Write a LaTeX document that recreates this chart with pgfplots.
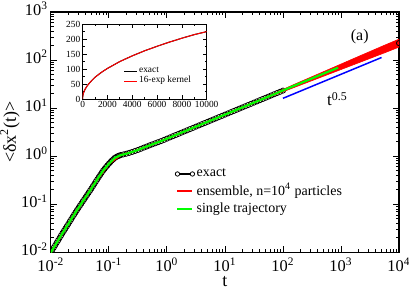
\documentclass[border=0pt]{standalone}
\usepackage{fontspec}
\setmainfont{Liberation Serif}
\usepackage{pgfplots}
\pgfplotsset{compat=1.18}
\begin{document}
\begin{tikzpicture}
\begin{axis}[
  name=main,
  at={(0,0)}, anchor=south west,
  xmode=log, ymode=log, scale only axis,
  width=174.5pt, height=120.5pt,
  xmin=0.01, xmax=10000, ymin=0.01, ymax=1000,
  clip marker paths=true,
  xtick={0.01,0.1,1,10,100,1000,10000},
  xticklabels={10\textsuperscript{-2},10\textsuperscript{-1},10\textsuperscript{0},10\textsuperscript{1},10\textsuperscript{2},10\textsuperscript{3},10\textsuperscript{4}},
  ytick={0.01,0.1,1,10,100,1000},
  yticklabels={10\textsuperscript{-2},10\textsuperscript{-1},10\textsuperscript{0},10\textsuperscript{1},10\textsuperscript{2},10\textsuperscript{3}},
  tick align=inside, major tick length=3pt, minor tick length=1.5pt,
  ticklabel style={font=\fontsize{8.2}{10}\selectfont},
  xticklabel style={inner sep=1pt, yshift=-1.8pt},
  yticklabel style={inner sep=1.2pt, yshift=1.5pt},
  xlabel={t}, ylabel={<δx\textsuperscript{2}(t)>},
  label style={font=\fontsize{9}{10}\selectfont},
  xlabel style={at={([yshift=-14.5pt]axis description cs:0.5,0)}, anchor=center, inner sep=0pt},
  ylabel style={at={([xshift=-20.5pt]axis description cs:0,0.5)}, anchor=center, inner sep=0pt},
  axis line style={line width=0.6pt},
  every tick/.style={black, line width=0.45pt},
  legend cell align=left,
  legend style={draw=none, fill=none, at={(0.355,0.357)}, anchor=north west,
    font=\fontsize{7}{8}\selectfont, row sep=0.4pt, inner sep=0pt,
    nodes={inner sep=0.8pt}},
]
% exact (with markers)
\addplot[black, line width=0.8pt, mark=o, mark size=1.3pt,
  mark options={line width=0.4pt, fill=none},
  legend image code/.code={\draw[black, line width=1pt] (0pt,0pt) -- (7.5pt,0pt);
    \draw[black, fill=white, line width=0.4pt] (0pt,0pt) circle (1.1pt) (7.5pt,0pt) circle (1.1pt);}]
coordinates {
(0.01,0.0100)(0.01059,0.01122)(0.01122,0.01259)(0.01189,0.01413)(0.01259,0.01585)
(0.01334,0.01778)(0.01413,0.01995)(0.01496,0.02239)(0.01585,0.02512)(0.01679,0.02803)
(0.01778,0.03126)(0.01884,0.03487)(0.01995,0.03890)(0.02113,0.04355)(0.02239,0.04875)
(0.02371,0.05451)(0.02512,0.06095)(0.02661,0.06784)(0.02818,0.07551)(0.02985,0.08395)
(0.03162,0.09333)(0.0335,0.1035)(0.03548,0.1148)(0.03758,0.1274)(0.03981,0.1413)
(0.04217,0.1567)(0.04467,0.1738)(0.04732,0.1928)(0.05012,0.2138)(0.05309,0.2385)
(0.05623,0.2661)(0.05957,0.2968)(0.0631,0.3311)(0.06683,0.3673)(0.07079,0.4074)
(0.07499,0.4519)(0.07943,0.5012)(0.08414,0.5464)(0.08913,0.5957)(0.09441,0.6457)
(0.1,0.6998)(0.1059,0.7542)(0.1122,0.8128)(0.1189,0.8650)(0.1259,0.9204)
(0.1334,0.9594)(0.1413,1.000)(0.1496,1.026)(0.1585,1.052)
(0.1778,1.090)(0.1995,1.127)(0.2239,1.172)(0.2512,1.225)(0.2818,1.285)(0.3162,1.349)
(0.3548,1.425)(0.3981,1.507)(0.4467,1.590)(0.5012,1.679)(0.5623,1.770)(0.631,1.862)
(0.7079,1.960)(0.7943,2.065)(0.8913,2.185)(1,2.317)(1.122,2.455)(1.259,2.600)(1.413,2.755)(1.585,2.917)
(1.778,3.090)(1.995,3.273)(2.239,3.468)(2.512,3.673)(2.818,3.890)(3.162,4.121)(3.548,4.365)(3.981,4.624)
(4.467,4.898)(5.012,5.188)(5.623,5.495)(6.31,5.821)(7.079,6.166)(7.943,6.531)(8.913,6.918)
(10,7.328)(11.22,7.762)(12.59,8.222)(14.13,8.710)(15.85,9.226)(17.78,9.772)(19.95,10.35)
(22.39,10.96)(25.12,11.61)(28.18,12.30)(31.62,13.03)(35.48,13.80)(39.81,14.62)(44.67,15.49)
(50.12,16.41)(56.23,17.38)(63.1,18.41)(70.79,19.50)(79.43,20.65)(89.13,21.88)(100,23.17)
};
\addlegendentry{exact}
% exact continued (line only, hidden under the ensemble band)
\addplot[black, line width=0.8pt, forget plot]
coordinates {(100,23.17)(177.8,30.9)(316.2,41.0)(562.3,54.5)(1000,72.4)(1778,96.2)(3162,127.6)(5623,169.5)(10000,225)};
% ensemble
\addplot[red, line width=1pt,
  legend image code/.code={\draw[red, line width=1pt] (0pt,0pt) -- (7.5pt,0pt);}]
coordinates {
(0.01,0.0100)(0.01585,0.02512)(0.02512,0.06095)(0.03981,0.1413)(0.0631,0.3311)
(0.1,0.6998)(0.1585,1.052)(0.2512,1.225)(0.3981,1.507)(0.631,1.862)(1,2.317)
(1.585,2.917)(2.512,3.673)(3.981,4.624)(6.31,5.821)(10,7.328)(15.85,9.226)(25.12,11.61)
(39.81,14.62)(63.1,18.41)(100,23.17)(316.2,41.0)(1000,72.4)(3162,127.6)(10000,225)
};
\addlegendentry{ensemble, n=10\textsuperscript{4} particles}
\addplot[red, fill=red, line width=0.3pt, forget plot]
coordinates {
(50,16.9)(100,24.56)(177.8,33.4)(316.2,45.1)(562.3,61.0)(1000,82.5)(1778,111.6)(3162,150.6)(5623,203.4)(10000,272)
(10000,186)(5623,141.3)(3162,108.1)(1778,82.9)(1000,63.5)(562.3,48.7)(316.2,37.3)(177.8,28.6)(100,21.86)(50,15.9)
} -- cycle;
% end marker of exact
\addplot[black, only marks, mark=o, mark size=1.3pt, mark options={line width=0.4pt}, forget plot]
coordinates {(10000,225)};
% single trajectory
\addplot[green, line width=1.1pt,
  legend image code/.code={\draw[green, line width=1pt] (0pt,0pt) -- (7.5pt,0pt);}]
coordinates {
(0.01,0.0100)(0.01259,0.01585)(0.01585,0.02512)(0.01995,0.03890)(0.02512,0.06095)
(0.03162,0.09333)(0.03981,0.1413)(0.05012,0.2138)(0.0631,0.3311)(0.07943,0.5012)
(0.1,0.6998)(0.1259,0.9204)(0.1585,1.052)(0.1995,1.127)(0.2512,1.225)(0.3162,1.349)
(0.3981,1.507)(0.5012,1.679)(0.631,1.862)(0.7943,2.065)(1,2.317)(1.585,2.917)
(2.512,3.673)(3.981,4.624)(6.31,5.821)(10,7.328)(15.85,9.226)(25.12,11.61)
(39.81,14.62)(63.1,18.41)(100,23.3)(177.8,31.2)(316.2,41.5)(562.3,55.3)(891,69.5)
};
\addlegendentry{single trajectory}
% t^0.5 guide
\addplot[blue, line width=0.75pt, forget plot] coordinates {(100,16)(5000,113)};
\node[font=\fontsize{8.5}{10}\selectfont] at (axis cs:870,15.5) {t\textsuperscript{0.5}};
\node[font=\fontsize{8}{10}\selectfont] at (axis cs:2100,310) {(a)};
\end{axis}
\begin{axis}[
  at={(main.south west)}, anchor=south west, xshift=15.9pt, yshift=76.9pt,
  scale only axis, width=62.2pt, height=37.5pt,
  xmin=0, xmax=10000, ymin=0, ymax=250,
  xtick={0,2000,4000,6000,8000,10000},
  ytick={0,50,100,150,200,250},
  minor x tick num=1, minor y tick num=1,
  scaled x ticks=false,
  /pgf/number format/1000 sep={},
  /pgf/number format/assume math mode=true,
  ticklabel style={font=\fontsize{4.7}{5}\selectfont},
  xticklabel style={inner sep=1pt},
  yticklabel style={inner sep=1pt},
  tick align=inside, major tick length=2pt, minor tick length=1pt,
  axis line style={line width=0.45pt},
  every tick/.style={black, line width=0.35pt},
  axis background/.style={fill=white},
  legend cell align=left,
  legend style={draw=none, fill=none, at={(0.33,0.44)}, anchor=north west,
    font=\fontsize{4.7}{5}\selectfont, row sep=-1pt, inner sep=0pt,
    nodes={inner sep=0.6pt}},
]
\addplot[black, line width=0.5pt,
  legend image code/.code={\draw[black, line width=0.5pt] (0pt,0pt) -- (6.5pt,0pt);}]
coordinates {
(0,0)(5,5.2)(20,10.3)(50,16.1)(100,23.2)(200,32.5)(400,45.6)(700,60)(1000,72.4)
(1500,88.5)(2000,102)(3000,125)(4000,144)(5000,161)(6000,176)(7000,190)(8000,203)(9000,215)(10000,225)
};
\addlegendentry{exact}
\addplot[red, line width=0.5pt,
  legend image code/.code={\draw[red, line width=0.5pt] (0pt,0pt) -- (6.5pt,0pt);}]
coordinates {
(0,0)(5,5.2)(20,10.3)(50,16.1)(100,23.2)(200,32.5)(400,45.6)(700,60)(1000,72.4)
(1500,88.5)(2000,102)(3000,125)(4000,144)(5000,161)(6000,176)(7000,190)(8000,203)(9000,215)(10000,225)
};
\addlegendentry{16-exp kernel}
\end{axis}
\pgfresetboundingbox
\path ([shift={(-25.5pt,-19.5pt)}]main.south west) rectangle ([shift={(5pt,6pt)}]main.north east);
\end{tikzpicture}
\end{document}
